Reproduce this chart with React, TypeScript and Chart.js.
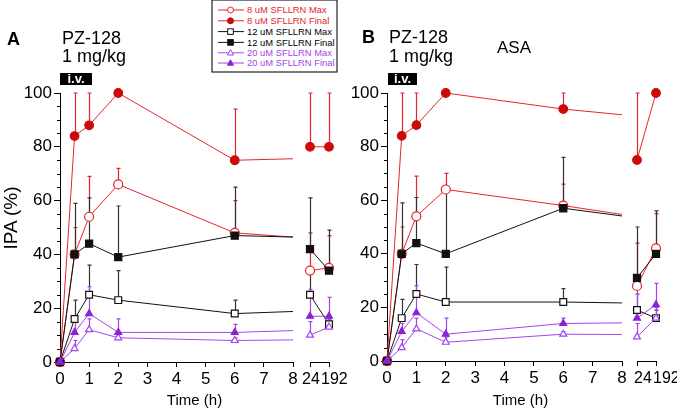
import React, { useEffect, useRef } from 'react';
import { Chart, registerables } from 'chart.js';

Chart.register(...registerables);

// ---------------- DATA ----------------
const TIMES = [0, 0.5, 1, 2, 6, 24, 192];
const BREAK_LABELS = ['24', '192'];
const SERIES_LABELS = [
  '8 uM SFLLRN Max',
  '8 uM SFLLRN Final',
  '12 uM SFLLRN Max',
  '12 uM SFLLRN Final',
  '20 uM SFLLRN Max',
  '20 uM SFLLRN Final',
];
const X_TICKS_MAIN = [0, 1, 2, 3, 4, 5, 6, 7, 8];
const Y_TICKS = [0, 20, 40, 60, 80, 100];

// Panel A: PZ-128 1 mg/kg
const A_8_MAX = [0, 40, 54, 66, 48, 34, 35];
const A_8_MAX_ERR = [0, 10, 15, 6, 12, 14, 12];
const A_8_FINAL = [0, 84, 88, 100, 75, 80, 80];
const A_8_FINAL_ERR = [0, 16, 12, 0, 19, 20, 20];
const A_12_MAX = [0, 16, 25, 23, 18, 25, 14];
const A_12_MAX_ERR = [0, 7, 11, 11, 5, 8, 2];
const A_12_FINAL = [0, 40, 44, 39, 47, 42, 34];
const A_12_FINAL_ERR = [0, 19, 17, 19, 18, 19, 15];
const A_20_MAX = [0, 5, 12, 9, 8, 10, 13];
const A_20_MAX_ERR = [0, 3, 4, 2, 1, 5, 3];
const A_20_FINAL = [0, 11, 18, 11, 11, 17, 17];
const A_20_FINAL_ERR = [0, 4, 10, 5, 3, 10, 7];

// Panel B: PZ-128 1 mg/kg + ASA
const B_8_MAX = [0, 40, 54, 64, 58, 28, 42];
const B_8_MAX_ERR = [0, 10, 15, 6, 8, 16, 13];
const B_8_FINAL = [0, 84, 88, 100, 94, 75, 100];
const B_8_FINAL_ERR = [0, 16, 12, 0, 6, 25, 0];
const B_12_MAX = [0, 16, 25, 22, 22, 19, 16];
const B_12_MAX_ERR = [0, 7, 11, 13, 5, 6, 3];
const B_12_FINAL = [0, 40, 44, 40, 57, 31, 40];
const B_12_FINAL_ERR = [0, 19, 17, 24, 19, 19, 16];
const B_20_MAX = [0, 5, 12, 7, 10, 9, 16];
const B_20_MAX_ERR = [0, 3, 4, 2, 1, 5, 4];
const B_20_FINAL = [0, 11, 18, 10, 14, 16, 21];
const B_20_FINAL_ERR = [0, 3, 10, 6, 2, 13, 8];

const PANEL_A = {
  values: [A_8_MAX, A_8_FINAL, A_12_MAX, A_12_FINAL, A_20_MAX, A_20_FINAL],
  errors: [A_8_MAX_ERR, A_8_FINAL_ERR, A_12_MAX_ERR, A_12_FINAL_ERR, A_20_MAX_ERR, A_20_FINAL_ERR],
};
const PANEL_B = {
  values: [B_8_MAX, B_8_FINAL, B_12_MAX, B_12_FINAL, B_20_MAX, B_20_FINAL],
  errors: [B_8_MAX_ERR, B_8_FINAL_ERR, B_12_MAX_ERR, B_12_FINAL_ERR, B_20_MAX_ERR, B_20_FINAL_ERR],
};

// ---------------- STYLE ----------------
const FONT = '"Liberation Sans", Arial, Helvetica, sans-serif';
const RED = '#e5242c';
const RED_DARK = '#cc0a0a';
const BLACK = '#111111';
const PURPLE = '#a443ea';
const PURPLE_DARK = '#8b22d6';
const H = 409;

const STYLES = [
  { line: RED, err: RED, pointStyle: 'circle', radius: 4.5, fill: '#ffffff', stroke: RED },
  { line: RED, err: RED, pointStyle: 'circle', radius: 4.3, fill: RED_DARK, stroke: RED_DARK },
  { line: BLACK, err: '#333333', pointStyle: 'rect', radius: 4.8, fill: '#ffffff', stroke: BLACK },
  { line: BLACK, err: '#333333', pointStyle: 'rect', radius: 5, fill: BLACK, stroke: BLACK },
  { line: PURPLE, err: PURPLE, pointStyle: 'triangle', radius: 4, fill: '#ffffff', stroke: PURPLE },
  { line: PURPLE, err: PURPLE, pointStyle: 'triangle', radius: 4, fill: PURPLE_DARK, stroke: PURPLE_DARK },
];

// ---------------- PLUGINS ----------------
const errorBarPlugin = {
  id: 'errorBars',
  beforeDatasetsDraw(chart: any) {
    const { ctx, chartArea } = chart;
    const y = chart.scales.y;
    chart.data.datasets.forEach((ds: any, di: number) => {
      const meta = chart.getDatasetMeta(di);
      const errs = ds.errors as number[];
      if (!errs) return;
      ctx.save();
      ctx.strokeStyle = ds.errColor;
      ctx.lineWidth = 1.2;
      meta.data.forEach((pt: any, i: number) => {
        const e = errs[i];
        if (!e) return;
        if (pt.x < chartArea.left - 1 || pt.x > chartArea.right + 1) return;
        const raw = ds.data[i];
        const v = typeof raw === 'number' ? raw : raw.y;
        const top = y.getPixelForValue(v + e);
        const x = Math.round(pt.x) + 0.5;
        ctx.beginPath();
        ctx.moveTo(x, pt.y);
        ctx.lineTo(x, top);
        ctx.moveTo(x - 2, top);
        ctx.lineTo(x + 2, top);
        ctx.stroke();
      });
      ctx.restore();
    });
  },
};

const minorTickPlugin = {
  id: 'minorTicks',
  afterDraw(chart: any) {
    const y = chart.scales.y;
    const { ctx, chartArea } = chart;
    ctx.save();
    ctx.strokeStyle = '#000';
    ctx.lineWidth = 1;
    for (let v = 5; v < 100; v += 5) {
      if (v % 20 === 0) continue;
      const py = Math.round(y.getPixelForValue(v)) + 0.5;
      ctx.beginPath();
      ctx.moveTo(chartArea.left - 3, py);
      ctx.lineTo(chartArea.left, py);
      ctx.stroke();
    }
    ctx.restore();
  },
};

function datasetStyle(i: number) {
  const s = STYLES[i];
  return {
    label: SERIES_LABELS[i],
    order: SERIES_LABELS.length - 1 - i,
    borderColor: s.line,
    backgroundColor: s.fill,
    pointBackgroundColor: s.fill,
    pointBorderColor: s.stroke,
    pointStyle: s.pointStyle,
    pointRadius: s.radius,
    pointBorderWidth: 1.2,
    borderWidth: 1,
    tension: 0,
    errColor: s.err,
  };
}

const tickFont = { family: FONT, size: 17 };
const breakFont = { family: FONT, size: 16 };

function buildMain(panel: any, axisWidth: number, padRight: number, axisBottom: number) {
  return {
    type: 'line',
    data: {
      datasets: panel.values.map((vals: number[], i: number) => ({
        ...datasetStyle(i),
        data: TIMES.map((t, k) => ({ x: t, y: vals[k] })),
        errors: panel.errors[i],
        clip: { left: 8, top: 8, right: 0, bottom: 8 },
      })),
    },
    options: {
      responsive: false,
      animation: false,
      events: [],
      layout: { padding: { left: 0, top: 93, right: padRight, bottom: 0 } },
      plugins: { legend: { display: false }, tooltip: { enabled: false } },
      scales: {
        x: {
          type: 'linear',
          min: 0,
          max: 8,
          afterBuildTicks: (s: any) => {
            s.ticks = X_TICKS_MAIN.map((v) => ({ value: v }));
          },
          ticks: { font: tickFont, color: '#000', padding: 2, maxRotation: 0, autoSkip: false },
          grid: { drawOnChartArea: false, drawTicks: true, tickLength: 5, color: '#000', lineWidth: 1 },
          border: { color: '#000', width: 1 },
          afterFit: (s: any) => {
            s.height = H - axisBottom;
            s.paddingLeft = 0;
            s.paddingRight = 0;
          },
        },
        y: {
          min: 0,
          max: 100,
          afterBuildTicks: (s: any) => {
            s.ticks = Y_TICKS.map((v) => ({ value: v }));
          },
          ticks: { font: tickFont, color: '#000', padding: 2 },
          grid: { drawOnChartArea: false, drawTicks: true, tickLength: 6, color: '#000', lineWidth: 1 },
          border: { color: '#000', width: 1 },
          afterFit: (s: any) => {
            s.width = axisWidth;
            s.paddingTop = 0;
            s.paddingBottom = 0;
          },
        },
      },
    },
    plugins: [errorBarPlugin, minorTickPlugin],
  };
}

function buildBreak(panel: any, padLeft: number, padRight: number, axisBottom: number, labelOffset: number) {
  return {
    type: 'line',
    data: {
      labels: BREAK_LABELS,
      datasets: panel.values.map((vals: number[], i: number) => ({
        ...datasetStyle(i),
        data: vals.slice(5, 7),
        errors: panel.errors[i].slice(5, 7),
        clip: 8,
      })),
    },
    options: {
      responsive: false,
      animation: false,
      events: [],
      layout: { padding: { left: padLeft, top: 93, right: padRight, bottom: 0 } },
      plugins: { legend: { display: false }, tooltip: { enabled: false } },
      scales: {
        x: {
          type: 'category',
          offset: false,
          ticks: {
            font: breakFont,
            color: '#000',
            padding: 2.5,
            maxRotation: 0,
            autoSkip: false,
            align: 'start',
            labelOffset,
          },
          grid: { drawOnChartArea: false, drawTicks: true, tickLength: 5, color: '#000', lineWidth: 1, offset: false },
          border: { color: '#000', width: 1 },
          afterFit: (s: any) => {
            s.height = H - axisBottom;
            s.paddingLeft = 0;
            s.paddingRight = 0;
          },
        },
        y: {
          display: false,
          min: 0,
          max: 100,
          afterFit: (s: any) => {
            s.width = 0;
            s.paddingTop = 0;
            s.paddingBottom = 0;
          },
        },
      },
    },
    plugins: [errorBarPlugin],
  };
}

function ChartCanvas({ build, left, width }: { build: () => any; left: number; width: number }) {
  const ref = useRef<HTMLCanvasElement>(null);
  useEffect(() => {
    const chart = new Chart(ref.current as HTMLCanvasElement, build());
    return () => chart.destroy();
  }, []);
  return (
    <canvas
      ref={ref}
      width={width}
      height={H}
      style={{ position: 'absolute', left, top: 0, width, height: H }}
    />
  );
}

function Txt({ x, baseline, size, children, bold, color }: any) {
  return (
    <div
      style={{
        position: 'absolute',
        left: x,
        top: baseline - 0.8465 * size,
        fontFamily: FONT,
        fontSize: size,
        lineHeight: `${size}px`,
        fontWeight: bold ? 'bold' : 'normal',
        color: color || '#000',
        whiteSpace: 'nowrap',
      }}
    >
      {children}
    </div>
  );
}

function IvBox({ x, w }: { x: number; w: number }) {
  return (
    <div
      style={{
        position: 'absolute',
        left: x,
        top: 73,
        width: w,
        height: 12,
        background: '#000',
        color: '#fff',
        fontFamily: FONT,
        fontWeight: 'bold',
        fontSize: 13,
        lineHeight: '12px',
        textAlign: 'center',
      }}
    >
      i.v.
    </div>
  );
}

function LegendMarker({ i, cx, cy }: { i: number; cx: number; cy: number }) {
  const s = STYLES[i];
  if (s.pointStyle === 'circle') return <circle cx={cx} cy={cy} r={3} fill={s.fill} stroke={s.stroke} strokeWidth={1} />;
  if (s.pointStyle === 'rect')
    return <rect x={cx - 2.8} y={cy - 2.8} width={5.6} height={5.6} fill={s.fill} stroke={s.stroke} strokeWidth={1} />;
  return (
    <polygon
      points={`${cx},${cy - 3.2} ${cx + 3},${cy + 2.2} ${cx - 3},${cy + 2.2}`}
      fill={s.fill}
      stroke={s.stroke}
      strokeWidth={1}
    />
  );
}

function Legend() {
  const rowY = [10, 20.8, 31.6, 42.4, 52.8, 63];
  return (
    <svg width={127} height={74} style={{ position: 'absolute', left: 211, top: -1 }}>
      <rect x={1} y={1} width={125} height={72} fill="#fff" stroke="#222" strokeWidth={1.2} />
      {SERIES_LABELS.map((lab, i) => (
        <g key={lab}>
          <line x1={7} x2={33} y1={rowY[i] + 1} y2={rowY[i] + 1} stroke={STYLES[i].line} strokeWidth={1} />
          <LegendMarker i={i} cx={19.5} cy={rowY[i] + 1} />
          <text
            x={36}
            y={rowY[i] + 4.4}
            fontFamily={FONT}
            fontSize={9.4}
            fill={STYLES[i].line === BLACK ? '#000' : STYLES[i].line}
          >
            {lab}
          </text>
        </g>
      ))}
    </svg>
  );
}

export default function App() {
  return (
    <div
      style={{
        position: 'absolute',
        left: 0,
        top: 0,
        width: 677,
        height: H,
        background: '#fff',
        overflow: 'hidden',
      }}
    >
      <ChartCanvas build={() => buildMain(PANEL_A, 60, 7, 362)} left={0} width={300} />
      <ChartCanvas build={() => buildBreak(PANEL_A, 10, 31, 362, -8)} left={300} width={60} />
      <ChartCanvas build={() => buildMain(PANEL_B, 47, 8, 361)} left={340} width={290} />
      <ChartCanvas build={() => buildBreak(PANEL_B, 7, 21, 361, -3)} left={630} width={47} />

      <Txt x={7} baseline={45} size={18} bold>A</Txt>
      <Txt x={62} baseline={44} size={18}>PZ-128</Txt>
      <Txt x={62} baseline={62.5} size={18}>1 mg/kg</Txt>
      <IvBox x={60} w={32} />

      <Txt x={362} baseline={43} size={18} bold>B</Txt>
      <Txt x={389} baseline={43} size={18}>PZ-128</Txt>
      <Txt x={389} baseline={62} size={18}>1 mg/kg</Txt>
      <IvBox x={388} w={29} />
      <Txt x={497} baseline={53} size={17}>ASA</Txt>

      <div
        style={{
          position: 'absolute',
          left: 11 - 45,
          top: 218 - 11,
          width: 90,
          height: 22,
          lineHeight: '22px',
          fontFamily: FONT,
          fontSize: 19,
          textAlign: 'center',
          transform: 'rotate(-90deg)',
          whiteSpace: 'nowrap',
        }}
      >
        IPA (%)
      </div>

      <div style={{ position: 'absolute', left: 194.5 - 50, top: 405 - 0.8465 * 15, width: 100, textAlign: 'center', fontFamily: FONT, fontSize: 15, lineHeight: '15px' }}>
        Time (h)
      </div>
      <div style={{ position: 'absolute', left: 520.5 - 50, top: 405 - 0.8465 * 15, width: 100, textAlign: 'center', fontFamily: FONT, fontSize: 15, lineHeight: '15px' }}>
        Time (h)
      </div>

      <Legend />
    </div>
  );
}
